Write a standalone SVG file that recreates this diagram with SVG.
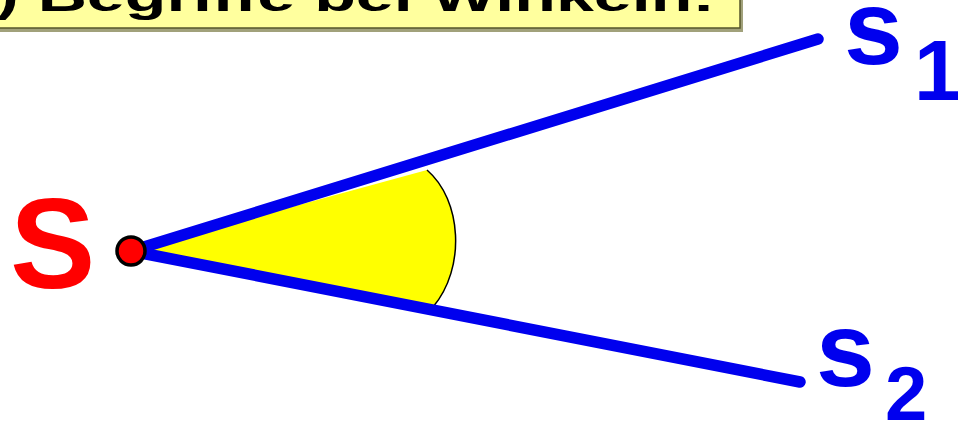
<svg xmlns="http://www.w3.org/2000/svg" width="958" height="425" viewBox="0 0 958 425">
  <style>
    .ray { stroke: #0000ee; stroke-width: 11.5; stroke-linecap: round; fill: none; }
    .lbl { font-family: "Liberation Sans", Arial, sans-serif; fill: #0000ee; font-weight: bold; }
    .title { font-family: "Liberation Sans", Arial, sans-serif; font-weight: bold; fill: #000; }
  </style>
  <rect width="958" height="425" fill="#ffffff"/>
  <g id="title">
    <rect x="-10" y="-10" width="753" height="42" fill="#8a8a5a" opacity="0.8"/>
    <rect x="-12" y="-12" width="752" height="40" fill="#ffff9e" stroke="#55552a" stroke-width="1.5"/>
    <text class="title" x="-4" y="11" font-size="44" textLength="719" lengthAdjust="spacingAndGlyphs">) Begriffe bei Winkeln:</text>
  </g>
  <g id="angle">
    <path d="M131,251 L427,170 C462,200 466,268 433,307 Z" fill="#ffff00"/>
    <path d="M427,170 C462,200 466,268 433,307" fill="none" stroke="#000" stroke-width="1.5"/>
  </g>
  <g id="connectors">
    <line id="ray1" class="ray" x1="131" y1="251" x2="818" y2="39"/>
    <line id="ray2" class="ray" x1="131" y1="251" x2="800" y2="382"/>
  </g>
  <g id="vertex">
    <circle cx="131" cy="251" r="14" fill="#ff0000" stroke="#000" stroke-width="3.5"/>
    <text x="10" y="288" font-family="'Liberation Sans', Arial, sans-serif" font-size="128" font-weight="bold" fill="#ff0000">S</text>
  </g>
  <g id="label-s1">
    <text class="lbl" x="844" y="64" font-size="106">s</text>
    <text class="lbl" x="914" y="100" font-size="85">1</text>
  </g>
  <g id="label-s2">
    <text class="lbl" x="816" y="386" font-size="106">s</text>
    <text class="lbl" x="885" y="420" font-size="76">2</text>
  </g>
</svg>
